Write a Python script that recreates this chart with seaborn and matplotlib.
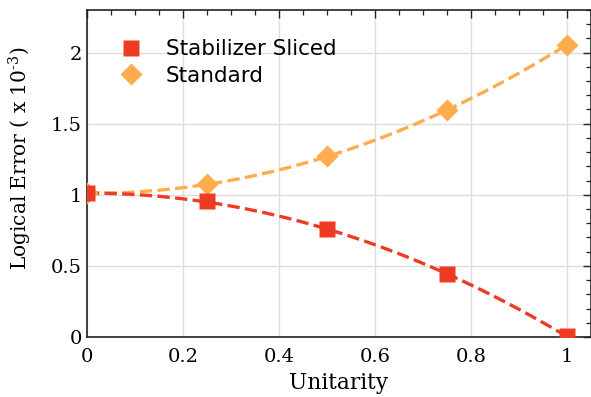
import matplotlib
matplotlib.use('Agg')  # Use non-interactive backend
import matplotlib.pyplot as plt
import seaborn as sns
import numpy as np
import pandas as pd
from matplotlib.ticker import MultipleLocator

# values (logical error in units of 1e-3)
unitarity = [0.0, 0.25, 0.5, 0.75, 1.0]
sliced_err = [1.01, 0.954, 0.758, 0.442, 0.005]
standard_err = [1.01, 1.074, 1.27, 1.595, 2.056]

series_names = ["Stabilizer Sliced", "Standard"]
colors = {"Stabilizer Sliced": "#EE3B24", "Standard": "#FFAD4C"}
markers = {"Stabilizer Sliced": "s", "Standard": "D"}

xticks = [0, 0.2, 0.4, 0.6, 0.8, 1]
xtick_labels = ["0", "0.2", "0.4", "0.6", "0.8", "1"]
yticks = [0, 0.5, 1, 1.5, 2]
ytick_labels = ["0", "0.5", "1", "1.5", "2"]

df = pd.DataFrame({
    "Unitarity": unitarity * 2,
    "err": sliced_err + standard_err,
    "method": [series_names[0]] * len(unitarity) + [series_names[1]] * len(unitarity),
})

sns.set_theme(style="whitegrid")
plt.rcParams['font.family'] = ['DejaVu Serif']
plt.rcParams['mathtext.fontset'] = 'dejavuserif'
plt.rcParams['text.color'] = 'black'
plt.rcParams['axes.labelcolor'] = 'black'

fig = plt.figure(figsize=(5.91, 3.97), dpi=100)
ax = fig.add_axes([0.147, 0.151, 0.853, 0.824])

# dashed quadratic fits, red drawn on top
for name, z in [("Standard", 2), ("Stabilizer Sliced", 3)]:
    sub = df[df["method"] == name]
    sns.regplot(data=sub, x="Unitarity", y="err", order=2, ci=None, scatter=False,
                ax=ax, color=colors[name],
                line_kws=dict(ls="--", lw=2.4, zorder=z))

for name, z in [("Standard", 4), ("Stabilizer Sliced", 5)]:
    sub = df[df["method"] == name]
    ax.plot(sub["Unitarity"], sub["err"], ls="none", marker=markers[name],
            ms=11 if name == "Standard" else 11.5, color=colors[name],
            mec="none", zorder=z, label=name)

ax.set_xlim(0, 1.05)
ax.set_ylim(0, 2.3)
ax.set_xticks(xticks)
ax.set_xticklabels(xtick_labels, fontsize=14)
ax.set_yticks(yticks)
ax.set_yticklabels(ytick_labels, fontsize=14)
ax.xaxis.set_minor_locator(MultipleLocator(0.05))
ax.yaxis.set_minor_locator(MultipleLocator(0.1))

ax.grid(True, which="major", color="#dddddd", lw=1)
ax.grid(False, which="minor")
ax.set_facecolor("white")
for s in ax.spines.values():
    s.set_color("#222222")
    s.set_linewidth(1.2)
ax.tick_params(which="both", direction="in", top=True, right=True,
               colors="#222222", labelcolor="black")
ax.tick_params(which="major", length=6, width=1)
ax.tick_params(which="minor", length=3.5, width=0.9)
ax.tick_params(axis="x", pad=8)

ax.set_xlabel("Unitarity", fontsize=15.7, labelpad=4)
ax.set_ylabel(r"Logical Error ( x 10$^{\text{-}3}$)", fontsize=14.5)
ax.yaxis.set_label_coords(-0.104, 0.545)

# legend: sliced first
h, l = ax.get_legend_handles_labels()
order = [l.index(n) for n in series_names]
leg = ax.legend([h[i] for i in order], [l[i] for i in order],
                loc="upper left", bbox_to_anchor=(0.02, 0.95), frameon=False,
                prop={"family": "DejaVu Sans", "size": 15.5},
                handletextpad=0.6, labelspacing=0.3, borderaxespad=0.2)
for t in leg.get_texts():
    t.set_color("black")

fig.savefig("out.png", dpi=100)
plt.close(fig)
